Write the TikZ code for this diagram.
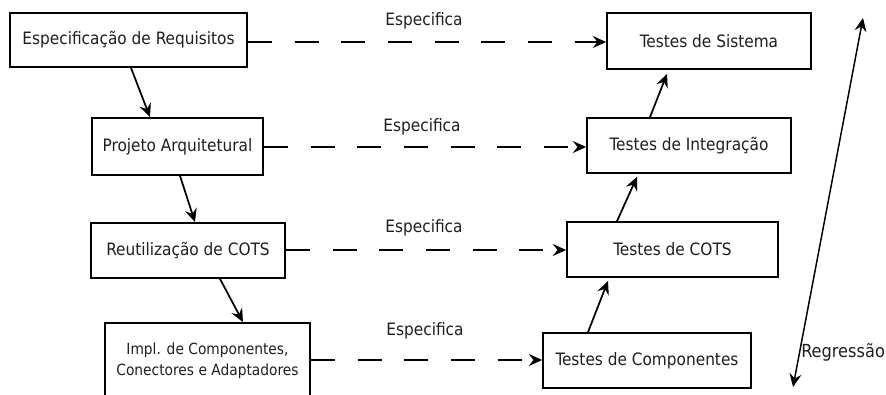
\documentclass[tikz,border=0pt]{standalone}
\usepackage{fontspec}
\setmainfont{DejaVu Sans Condensed}
\usetikzlibrary{arrows.meta}
\newdimen\px
\px=0.75pt
\begin{document}
\begin{tikzpicture}[x=0.75pt,y=-0.75pt,
  every node/.style={font=\fontsize{12.8}{15}\selectfont, text=black!88},
  box/.style={draw=black, line width=1.3pt, rectangle, inner sep=0pt, align=center},
  flow/.style={line width=1.3pt, -{Stealth[length=10pt,width=9pt,inset=3.5pt]}},
  spec/.style={line width=1.3pt, dash pattern=on 18pt off 17pt, -{Stealth[length=10pt,width=9pt,inset=3.5pt]}},
  lbl/.style={inner sep=0pt}]
  \useasboundingbox (0,0) rectangle (886,395);
  \fill[white] (0,0) rectangle (886,395);

  % development side
  \node[box, minimum width=237\px, minimum height=54\px] (req) at (128.5,40) {Especificação de Requisitos};
  \node[box, minimum width=171\px, minimum height=57\px] (arq)  at (177.5,146.5) {Projeto Arquitetural};
  \node[box, minimum width=194\px, minimum height=55\px] (reu)  at (188,250.5) {Reutilização de COTS};
  \node[box, minimum width=205\px, minimum height=76\px, font=\fontsize{11.5}{16}\selectfont] (impl) at (207.5,361) {Impl. de Componentes,\\Conectores e Adaptadores};

  % test side
  \node[box, minimum width=204\px, minimum height=56\px] (sis)  at (709,41)    {Testes de Sistema};
  \node[box, minimum width=204\px, minimum height=55\px] (int)  at (689,145.5) {Testes de Integração};
  \node[box, minimum width=211\px, minimum height=55\px] (cots) at (672.5,249.5) {Testes de COTS};
  \node[box, minimum width=208\px, minimum height=55\px] (comp) at (647,360.5) {Testes de Componentes};

  % downward flow
  \draw[flow] ([xshift=2.5\px]req.south) -- ([xshift=-27.5\px]arq.north);
  \draw[flow] ([xshift=2.5\px]arq.south) -- ([xshift=7\px]reu.north);
  \draw[flow] ([xshift=32\px]reu.south) -- ([xshift=35.5\px]impl.north);

  % upward flow
  \draw[flow] ([xshift=-59\px]comp.north) -- ([xshift=-64.5\px,yshift=-3\px]cots.south);
  \draw[flow] ([xshift=-55.5\px]cots.north) -- ([xshift=-52\px,yshift=-3\px]int.south);
  \draw[flow] ([xshift=-39\px]int.north) -- ([xshift=-42\px,yshift=-4\px]sis.south);

  % specification links
  \draw[spec] (req.east |- 0,42) -- (sis.west |- 0,42);
  \draw[spec] (arq.east |- 0,147) -- (int.west |- 0,147);
  \draw[spec] (reu.east |- 0,250) -- (cots.west |- 0,250);
  \draw[spec] (impl.east |- 0,360) -- (comp.west |- 0,360);

  \node[lbl] (e1) at (424,21)  {Especifica};
  \node[lbl] (e2) at (422,127) {Especifica};
  \node[lbl] (e3) at (424,228) {Especifica};
  \node[lbl] (e4) at (425,331) {Especifica};

  % regression
  \coordinate (rtop) at (863,18);
  \coordinate (rbot) at (793,387);
  \draw[line width=1.1pt, {Stealth[length=10pt,width=9pt,inset=3.5pt]}-{Stealth[length=10pt,width=9pt,inset=3.5pt]}] (rbot) -- (rtop);
  \node[lbl, anchor=west, font=\fontsize{13.5}{16}\selectfont] (reg) at (801,352) {Regressão};
\end{tikzpicture}
\end{document}
